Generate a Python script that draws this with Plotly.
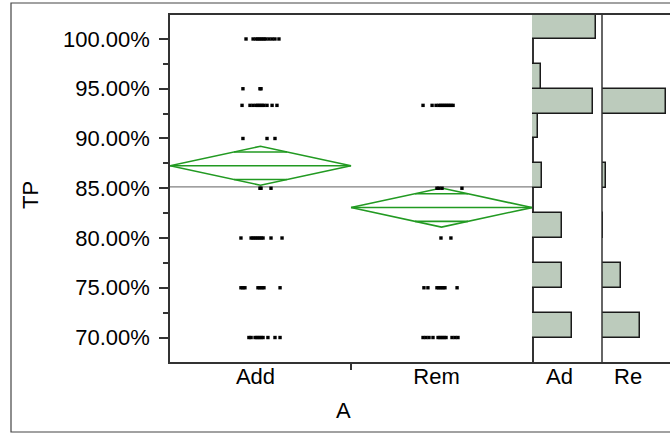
import math
import plotly.graph_objects as go

# ---------------- data ----------------
groups = ["Add", "Rem"]

add_levels = [1.00, 0.95, 0.9333, 0.90, 0.85, 0.80, 0.75, 0.70]
add_jitter = [
    [-0.080, -0.041, -0.025, -0.014, -0.003, 0.008, 0.019, 0.030, 0.047, 0.064, 0.080, 0.102],
    [-0.097, -0.003, 0.003],
    [-0.102, -0.058, -0.041, -0.025, -0.014, -0.003, 0.008, 0.019, 0.036, 0.064, 0.091],
    [-0.097, 0.036, 0.080],
    [-0.003, 0.003, 0.058],
    [-0.108, -0.052, -0.041, -0.030, -0.019, -0.008, 0.003, 0.014, 0.058, 0.119],
    [-0.108, -0.097, -0.086, -0.014, -0.003, 0.008, 0.019, 0.108],
    [-0.064, -0.052, -0.030, -0.019, -0.008, 0.003, 0.014, 0.041, 0.080, 0.108],
]

rem_levels = [0.9333, 0.85, 0.80, 0.75, 0.70]
rem_jitter = [
    [-0.102, -0.052, -0.030, -0.014, -0.003, 0.008, 0.019, 0.030, 0.041, 0.052, 0.064],
    [-0.025, -0.014, 0.003, 0.113],
    [-0.003, 0.052],
    [-0.097, -0.075, -0.025, -0.014, -0.003, 0.008, 0.019, 0.086],
    [-0.102, -0.086, -0.069, -0.047, -0.019, -0.008, 0.003, 0.014, 0.025, 0.058, 0.075, 0.091],
]

group_means = [0.8726, 0.8306]
group_ci_half = [0.0196, 0.0196]
grand_mean = 0.8513

bin_width = 0.025
add_hist_bins = [0.70, 0.75, 0.80, 0.85, 0.90, 0.925, 0.95, 1.00]
add_hist_counts = [12.4, 9.3, 9.3, 3.1, 1.9, 19.1, 2.8, 20.0]
rem_hist_bins = [0.70, 0.75, 0.80, 0.85, 0.925]
rem_hist_counts = [11.9, 5.9, 0.3, 1.3, 19.9]

hist_labels = ["Ad", "Re"]

# ---------------- helpers (pixel -> paper) ----------------
W, H = 670, 433
def px(x):
    return x / W
def py(y):
    return 1 - y / H

FONT = "Liberation Sans, Arial, sans-serif"
FS = 22
LINE = "#333333"
GREEN = "#229a22"

fig = go.Figure()

# grand mean line
fig.add_trace(go.Scatter(x=[-0.5, 1.5], y=[grand_mean, grand_mean], mode="lines",
                         line=dict(color="#808080", width=1.2), hoverinfo="skip",
                         showlegend=False))

# means diamonds
for i, (m, c) in enumerate(zip(group_means, group_ci_half)):
    d = c / math.sqrt(2)
    hw = 0.5 * (1 - d / c)
    xs = [i - 0.5, i, i + 0.5, i, i - 0.5, None,
          i - 0.5, i + 0.5, None,
          i - hw, i + hw, None,
          i - hw, i + hw]
    ys = [m, m + c, m, m - c, m, None,
          m, m, None,
          m + d, m + d, None,
          m - d, m - d]
    fig.add_trace(go.Scatter(x=xs, y=ys, mode="lines", line=dict(color=GREEN, width=1.6),
                             hoverinfo="skip", showlegend=False))

# jittered points
for i, (levels, jit) in enumerate([(add_levels, add_jitter), (rem_levels, rem_jitter)]):
    xs, ys = [], []
    for lv, offs in zip(levels, jit):
        for o in offs:
            xs.append(i + o)
            ys.append(lv)
    fig.add_trace(go.Scatter(x=xs, y=ys, mode="markers",
                             marker=dict(symbol="square", size=3.4, color="black",
                                         line=dict(width=0)),
                             showlegend=False))

# histograms
for ax, bins, counts in [("x2", add_hist_bins, add_hist_counts),
                         ("x3", rem_hist_bins, rem_hist_counts)]:
    fig.add_trace(go.Bar(x=counts, y=[b + bin_width / 2 for b in bins], width=bin_width,
                         orientation="h", base=0,
                         marker=dict(color="#bccbbc", line=dict(color="#1a1a1a", width=1.5)),
                         xaxis=ax, yaxis="y", showlegend=False))

fig.update_layout(
    width=W, height=H,
    margin=dict(l=0, r=0, t=0, b=0),
    paper_bgcolor="white", plot_bgcolor="white",
    font=dict(family=FONT, size=FS, color="black"),
    bargap=0,
    xaxis=dict(domain=[px(170), px(532)], range=[-0.5, 1.5], anchor="y",
               tickmode="array", tickvals=[0, 1], ticktext=groups, ticks="",
               ticklabelshift=-5, ticklabelstandoff=-6,
               minor=dict(tickvals=[0.5], ticks="outside", ticklen=6, tickcolor=LINE, tickwidth=1.5),
               showline=True, mirror=True, linecolor=LINE, linewidth=1.5,
               showgrid=False, zeroline=False,
               tickfont=dict(family=FONT, size=FS, color="black")),
    xaxis2=dict(domain=[px(532), px(602)], range=[0, 70 / 3.2], anchor="y",
                showticklabels=False, ticks="", showline=True, mirror=True,
                linecolor=LINE, linewidth=1.5, showgrid=False, zeroline=False),
    xaxis3=dict(domain=[px(602), 1], range=[0, 68 / 3.2], anchor="y",
                showticklabels=False, ticks="", showline=True, mirror=True,
                linecolor=LINE, linewidth=1.5, showgrid=False, zeroline=False),
    yaxis=dict(domain=[py(362), py(15)], range=[0.6754, 1.0241], anchor="x",
               tickmode="linear", tick0=0, dtick=0.05, tickformat=".2%",
               ticks="outside", ticklen=9, tickcolor=LINE, tickwidth=1.5,
               minor=dict(dtick=0.025, tick0=0, ticks="outside", ticklen=5,
                          tickcolor=LINE, tickwidth=1.5),
               ticklabelstandoff=5,
               showline=True, mirror=True, linecolor=LINE, linewidth=1.5,
               showgrid=False, zeroline=False,
               tickfont=dict(family=FONT, size=FS, color="black")),
    shapes=[
        dict(type="line", xref="paper", yref="paper", x0=px(602), x1=px(602),
             y0=py(362), y1=py(15), line=dict(color=LINE, width=1.5)),
        dict(type="rect", xref="paper", yref="paper", x0=px(11), x1=1.05,
             y0=py(432), y1=py(3), line=dict(color="#444444", width=1.2)),
    ],
    annotations=[
        dict(text="TP", xref="paper", yref="paper", x=px(30), y=py(195),
             xanchor="center", yanchor="middle",
             textangle=-90, showarrow=False, font=dict(family=FONT, size=FS)),
        dict(text="A", xref="paper", yref="paper", x=px(343), y=py(410),
             xanchor="center", yanchor="middle",
             showarrow=False, font=dict(family=FONT, size=FS)),
        dict(text=hist_labels[0], xref="paper", yref="paper", x=px(559.5), y=py(376),
             xanchor="center", yanchor="middle",
             showarrow=False, font=dict(family=FONT, size=FS)),
        dict(text=hist_labels[1], xref="paper", yref="paper", x=px(627.5), y=py(376),
             xanchor="center", yanchor="middle",
             showarrow=False, font=dict(family=FONT, size=FS)),
    ],
)

fig.write_html("out.html", config={"displayModeBar": False},
               post_script="document.body.style.margin='0';document.body.style.overflow='hidden';")
